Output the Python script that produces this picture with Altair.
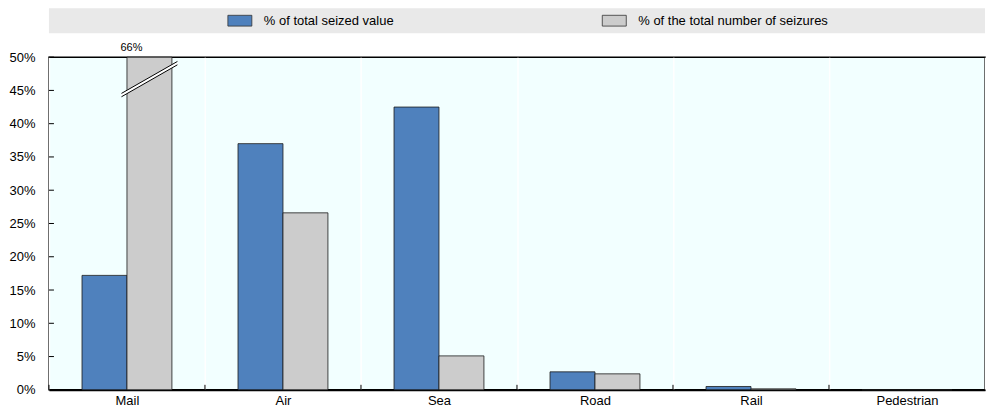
import altair as alt
import pandas as pd

categories = ["Mail", "Air", "Sea", "Road", "Rail", "Pedestrian"]
series = ["% of total seized value", "% of the total number of seizures"]
seized_value = [17.2, 37.0, 42.5, 2.7, 0.5, 0.0]
seizure_count = [66.0, 26.6, 5.1, 2.4, 0.15, 0.0]
colors = ["#4f81bd", "#cccccc"]
y_ticks = [0, 5, 10, 15, 20, 25, 30, 35, 40, 45, 50]
y_max = 50

FONT = "Liberation Sans"
W = 937
H = 333

rows = []
for i, c in enumerate(categories):
    rows.append({"cat": c, "series": series[0], "value": seized_value[i]})
    rows.append({"cat": c, "series": series[1], "value": seizure_count[i]})
df = pd.DataFrame(rows)
df["shown"] = df["value"].clip(upper=y_max)
breaks = df[df["value"] > y_max].copy()
breaks["label"] = breaks["value"].map(lambda v: f"{v:.0f}%")
breaks["ypos"] = y_max * 0.934
breaks["ytop"] = y_max

xscale = alt.Scale(domain=categories, paddingInner=0, paddingOuter=0)
xoscale = alt.Scale(domain=series, paddingInner=0, paddingOuter=0.735)
yscale = alt.Scale(domain=[0, y_max], nice=False)
cscale = alt.Scale(domain=series, range=colors)

xaxis = alt.Axis(title=None, labelAngle=0, ticks=False, domain=True, domainColor="#000000",
                 domainWidth=2, grid=True, gridColor="#ffffff", gridWidth=1.5, tickBand="extent",
                 labelPadding=5, labelFontSize=13, labelColor="#000000")
yaxis = alt.Axis(title=None, values=y_ticks, labelExpr="datum.value + '%'", ticks=False,
                 domain=False, grid=False, labelPadding=14, labelFontSize=13, labelColor="#000000",
                 labelOverlap=False, labelFlush=False)

bars = alt.Chart(df).mark_bar(stroke="#1a1a1a", strokeWidth=0.8).encode(
    x=alt.X("cat:N", scale=xscale, axis=xaxis, sort=categories),
    xOffset=alt.XOffset("series:N", scale=xoscale, sort=series),
    y=alt.Y("shown:Q", scale=yscale, axis=yaxis),
    color=alt.Color("series:N", scale=cscale, legend=None),
)

ytick_df = pd.DataFrame({"t": y_ticks})
yticks = alt.Chart(ytick_df).mark_rule(color="#000000", strokeWidth=1).encode(
    y=alt.Y("t:Q", scale=yscale, axis=yaxis),
    x=alt.value(0),
    x2=alt.value(5),
)

xtick_df = pd.DataFrame({"cat": categories})
xticks = alt.Chart(xtick_df).mark_rule(color="#000000", strokeWidth=1).encode(
    x=alt.X("cat:N", scale=xscale, axis=xaxis, bandPosition=0, sort=categories),
    y=alt.value(H),
    y2=alt.value(H - 5),
)

brk_white = alt.Chart(breaks).mark_point(
    shape="M-1,0.571L1,-0.571", size=56 ** 2, filled=False, stroke="#ffffff", strokeWidth=3, opacity=1
).encode(
    x=alt.X("cat:N", scale=xscale, axis=xaxis, sort=categories),
    xOffset=alt.XOffset("series:N", scale=xoscale, sort=series),
    y=alt.Y("ypos:Q", scale=yscale, axis=yaxis),
)
brk_black = alt.Chart(breaks).mark_point(
    shape="M-1,0.511L1,-0.631M-1,0.631L1,-0.511", size=56 ** 2, filled=False, stroke="#000000",
    strokeWidth=1, opacity=1
).encode(
    x=alt.X("cat:N", scale=xscale, axis=xaxis, sort=categories),
    xOffset=alt.XOffset("series:N", scale=xoscale, sort=series),
    y=alt.Y("ypos:Q", scale=yscale, axis=yaxis),
)
brk_label = alt.Chart(breaks).mark_text(fontSize=11, baseline="bottom", dy=-4, dx=-18,
                                        color="#000000").encode(
    x=alt.X("cat:N", scale=xscale, axis=xaxis, sort=categories),
    xOffset=alt.XOffset("series:N", scale=xoscale, sort=series),
    y=alt.Y("ytop:Q", scale=yscale, axis=yaxis),
    text="label:N",
)

main = alt.layer(bars, xticks, yticks, brk_white, brk_black, brk_label).properties(
    width=W, height=H,
    view=alt.ViewBackground(fill="#f2ffff", stroke="#000000", strokeWidth=1.5),
)

leg_df = pd.DataFrame({"series": series})
lx = alt.Scale(domain=series, padding=0.75)
leg_sw = alt.Chart(leg_df).mark_point(
    shape="M-8.5,-0.45L-6.5,-0.45L-6.5,0.45L-8.5,0.45Z", size=24 ** 2, filled=True, stroke="#333333",
    strokeWidth=0.8, opacity=1
).encode(
    x=alt.X("series:N", scale=lx, axis=None, sort=series),
    y=alt.value(12.5),
    fill=alt.Fill("series:N", scale=cscale, legend=None),
)
leg_tx = alt.Chart(leg_df).mark_text(align="left", baseline="middle", fontSize=13, dx=-66,
                                       color="#000000").encode(
    x=alt.X("series:N", scale=lx, axis=None, sort=series),
    y=alt.value(12.5),
    text="series:N",
)
legend = alt.layer(leg_sw, leg_tx).properties(
    width=W, height=25,
    view=alt.ViewBackground(fill="#e9e9e9", stroke=None),
)

chart = alt.vconcat(legend, main, spacing=8).properties(padding=0).configure(
    font=FONT
).configure_text(font=FONT)

chart.save("out.html", embed_options={"renderer": "svg", "actions": False})
